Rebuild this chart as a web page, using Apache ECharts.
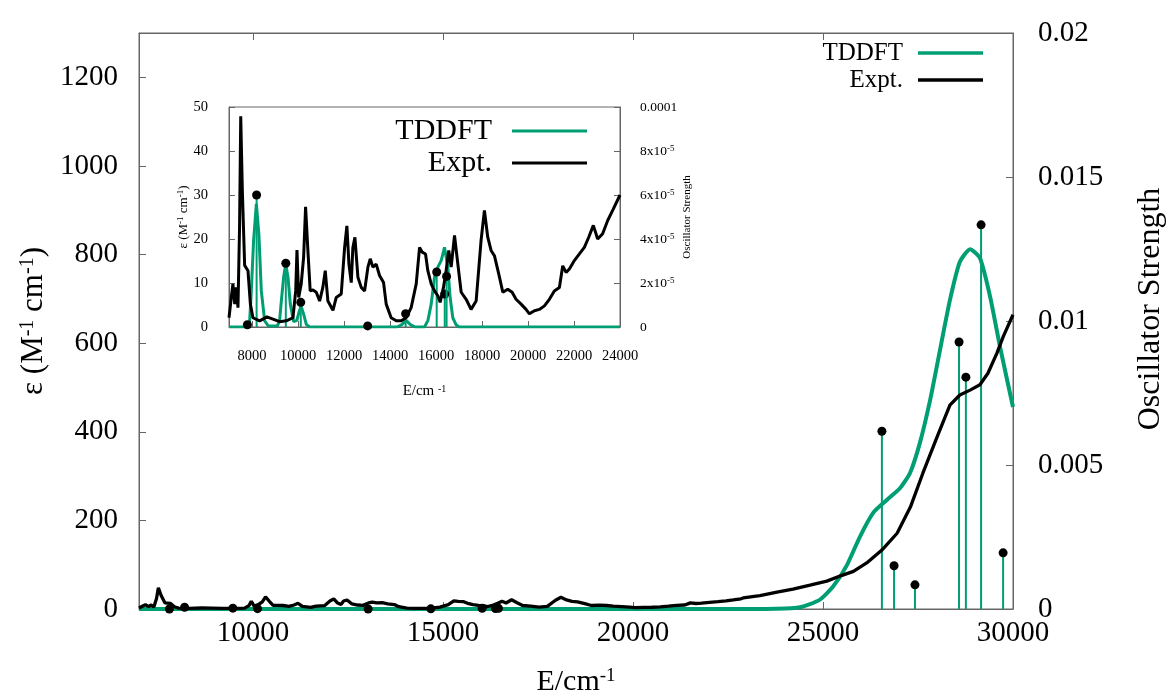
<!DOCTYPE html>
<html><head><meta charset="utf-8">
<script src="https://cdn.jsdelivr.net/npm/echarts@6/dist/echarts.min.js"></script>
<style>html,body{margin:0;padding:0;background:#fff}#c{width:1171px;height:697px}</style>
</head><body><div id="c"></div>
<script>
const FONT = '"Liberation Serif","Times New Roman",serif';

const exptLowE = [7000,7100,7170,7250,7320,7390,7460,7510,7580,7680,7825,7930,8040,8330,8650,8910,9200,9490,9780,9900,9955,10030,10140,10245,10330,10430,10530,10650,10795,10940,11080,11185,11300,11520,11660,11880,12025,12125,12215,12315,12385,12475,12605,12750,12895,13040,13140,13255,13400,13545,13720,13835,14050,14270,14485,14700,14920,15140,15285,15400,15545,15645,15790,15935,16080,16180,16325,16440,16555,16660,16805,16950,17095,17310,17525,17745,17960,18105,18250,18395,18540,18730,18905,19120,19310,19480,19700,19915,20060,20280,20495,20715,20930,21145,21365,21510,21655,21800,22015,22235,22450,22640,22840,23030,23245,23465,23680,24000];
const exptLowEps = [2.1,6.7,9.8,5.2,9,4.4,23,47.9,31,14,12.8,5.2,2.1,1.4,2.3,1.8,1.2,1.4,2.1,8.2,17.5,6.7,9.8,15.9,27.3,17.4,8.2,8.4,7.9,5.9,9,12.8,5.9,3.8,6.7,7.5,18,23,14.3,10.1,18,20.4,11.3,9,8.2,13.6,15.5,13.6,14.3,11.7,10.1,5.2,2.1,1.4,1.4,2.1,4.4,9.8,18.1,17,16.6,12.8,9.8,8.2,7.1,5.6,9,12.8,17.4,13.6,20.8,14.3,7.9,6.3,4,5.9,19.7,26.5,20.4,17.4,16.2,12,7.9,8.6,7.9,6.3,5.2,4,3,3.7,4,4.8,6.3,8.2,9,13.9,12.4,13.2,15.1,16.6,18.1,20.4,23.1,20,21.2,24.2,26.5,30];
const exptHighE = [22900,23340,23790,24210,24660,25100,25500,25800,26150,26550,26950,27300,27630,28000,28340,28600,28870,29130,29340,29580,29740,30000];
const exptHighEps = [25,30,38,45,54,63,76,85,104,133,171,230,307,388,460,483,494,506,532,578,614,664];

// TDDFT broadened spectrum, main panel
const tddftMainE = [7000,23500,24000,24400,24900,25260,25630,25970,26320,26680,27030,27290,27550,27820,28080,28340,28600,28870,29130,29400,29660,30000];
const tddftMainEps = [0,0,1,4,20,50,99,163,217,246,273,307,375,472,585,697,783,812,792,704,591,456];

// TDDFT broadened spectrum, inset (low-energy region)
const tddftInsetE = [7000,7800,7900,7970,8070,8190,8300,8405,8550,8700,9100,9200,9275,9375,9465,9565,9665,9810,9950,10040,10130,10245,10360,10500,14300,14500,14700,14900,15100,15500,15650,15790,15935,16080,16225,16370,16440,16515,16615,16730,16875,17000,24000];
const tddftInsetEps = [0,0,1.5,8.2,19.7,28,21,8.2,1.4,0.3,0.2,1.5,5.9,11.3,14.3,11.3,5.2,1.2,1.5,3.3,4.8,2.9,0.6,0,0,0.5,1.5,0.5,0,0,1.5,5.2,11.3,13.6,15.1,18.1,17.8,13.6,6.7,2.1,0.5,0,0];

// TDDFT transitions (stick spectrum): energy and oscillator strength
const stickE = [7800,8200,9470,10120,13030,14680,16030,16380,16460,26550,26870,27420,28580,28760,29160,29740];
const stickF = [0.000001,0.00006,0.000029,0.0000112,0.0000005,0.000006,0.000025,0.000015,0.000023,0.00617,0.0015,0.00084,0.00927,0.00805,0.01334,0.00195];

// Tick values / labels
const mainXTicks = [10000,15000,20000,25000,30000];
const mainYTicks = [0,200,400,600,800,1000,1200];
const mainY2Ticks = [0,0.005,0.01,0.015,0.02];
const insetXTicks = [8000,10000,12000,14000,16000,18000,20000,22000,24000];
const insetYTicks = [0,10,20,30,40,50];
const insetY2Ticks = [0,0.00002,0.00004,0.00006,0.00008,0.0001];
const insetY2Labels = ['0','2x10{sup|-5}','4x10{sup|-5}','6x10{sup|-5}','8x10{sup|-5}','0.0001'];

const GREEN = '#009e73';
const AXC = '#666';

const pairs = (xs, ys) => xs.map((x, i) => [x, ys[i]]);
const stickData = pairs(stickE, stickF);
const exptMain = pairs(exptLowE, exptLowEps).filter(d => d[0] < exptHighE[0]).concat(pairs(exptHighE, exptHighEps));
const exptInset = pairs(exptLowE, exptLowEps);
const plain = v => String(parseFloat(Number(v).toFixed(6)));

function stickRender(params, api) {
  const x = api.value(0), f = api.value(1);
  const top = api.coord([x, f]);
  const base = api.coord([x, 0]);
  return {type: 'group', children: [
    {type: 'line', shape: {x1: top[0], y1: top[1], x2: base[0], y2: base[1]}, style: {stroke: GREEN, lineWidth: 2}},
    {type: 'circle', shape: {cx: top[0], cy: top[1], r: 4.5}, style: {fill: '#000'}}
  ]};
}

const supStyle = (fs) => ({fontSize: fs, fontFamily: FONT, color: '#000', verticalAlign: 'top', lineHeight: fs});

function valAxis(o) {
  return Object.assign({
    type: 'value',
    splitLine: {show: false},
    axisLine: {show: true, onZero: false, lineStyle: {color: AXC, width: 1}},
  }, o);
}

const chart = echarts.init(document.getElementById('c'), null, {renderer: 'canvas'});
chart.setOption({
  animation: false,
  backgroundColor: '#fff',
  textStyle: {fontFamily: FONT},
  grid: [
    {left: 139, top: 33, width: 874, height: 576, show: true, borderColor: AXC, borderWidth: 1,
     backgroundColor: '#fff', containLabel: false, outerBoundsMode: 'none'},
    {left: 229, top: 107, width: 391, height: 220, show: true, borderColor: AXC, borderWidth: 1,
     backgroundColor: '#fff', containLabel: false, outerBoundsMode: 'none'}
  ],
  legend: [
    {
      data: [{name: 'TDDFT', icon: 'rect', itemStyle: {color: GREEN, borderWidth: 0}},
             {name: 'Expt.', icon: 'rect', itemStyle: {color: '#000', borderWidth: 0}}],
      orient: 'vertical', align: 'right', right: 188, top: 39.5, padding: 0,
      itemWidth: 65, itemHeight: 3.5, itemGap: 0, selectedMode: false,
      textStyle: {fontFamily: FONT, fontSize: 25, color: '#000', lineHeight: 17, padding: [0, 10, 10, 0]}
    },
    {
      data: [{name: 'TDDFT', icon: 'rect', itemStyle: {color: GREEN, borderWidth: 0}},
             {name: 'Expt.', icon: 'rect', itemStyle: {color: '#000', borderWidth: 0}}],
      orient: 'vertical', align: 'right', right: 584, top: 115, padding: 0,
      itemWidth: 75, itemHeight: 3, itemGap: 0, selectedMode: false,
      textStyle: {fontFamily: FONT, fontSize: 30, color: '#000', lineHeight: 18, padding: [0, 15, 14, 0]}
    }
  ],
  xAxis: [
    valAxis({
      gridIndex: 0, min: 7000, max: 30000, position: 'bottom',
      axisTick: {show: true, inside: true, length: 7, customValues: mainXTicks, lineStyle: {color: AXC}},
      axisLabel: {customValues: mainXTicks, fontSize: 29, fontFamily: FONT, color: '#000', margin: 10, formatter: plain},
      name: 'E/cm{sup|-1}', nameLocation: 'middle', nameGap: 58,
      nameTextStyle: {fontSize: 30, fontFamily: FONT, color: '#000', rich: {sup: supStyle(19)}}
    }),
    valAxis({
      gridIndex: 0, min: 7000, max: 30000, position: 'top',
      axisTick: {show: true, inside: true, length: 7, customValues: mainXTicks, lineStyle: {color: AXC}},
      axisLabel: {show: false}
    }),
    valAxis({
      gridIndex: 1, min: 7000, max: 24000, position: 'bottom',
      axisTick: {show: true, inside: true, length: 6, customValues: insetXTicks, lineStyle: {color: AXC}},
      axisLabel: {customValues: insetXTicks, fontSize: 14.5, fontFamily: FONT, color: '#000', margin: 22, formatter: plain},
      name: 'E/cm {sup|-1}', nameLocation: 'middle', nameGap: 57,
      nameTextStyle: {fontSize: 15, fontFamily: FONT, color: '#000', rich: {sup: supStyle(10)}}
    })
  ],
  yAxis: [
    valAxis({
      gridIndex: 0, min: 0, max: 1300, position: 'left',
      axisTick: {show: true, inside: true, length: 7, customValues: mainYTicks, lineStyle: {color: AXC}},
      axisLabel: {customValues: mainYTicks, fontSize: 29, fontFamily: FONT, color: '#000', margin: 21,
                  padding: [0, 0, 4, 0], formatter: plain},
      name: 'ε (M{sup|-1} cm{sup|-1})', nameLocation: 'middle', nameGap: 78,
      nameTextStyle: {fontSize: 31, fontFamily: FONT, color: '#000', rich: {sup: supStyle(20)}}
    }),
    valAxis({
      gridIndex: 0, min: 0, max: 0.02, position: 'right',
      axisTick: {show: true, inside: true, length: 7, customValues: mainY2Ticks, lineStyle: {color: AXC}},
      axisLabel: {customValues: mainY2Ticks, fontSize: 29, fontFamily: FONT, color: '#000', margin: 25,
                  padding: [0, 0, 14, 0], formatter: plain},
      name: 'Oscillator Strength', nameLocation: 'middle', nameGap: 122,
      nameTextStyle: {fontSize: 32, fontFamily: FONT, color: '#000', padding: [0, 0, 0, 24]}
    }),
    valAxis({
      gridIndex: 1, min: 0, max: 50, position: 'left',
      axisTick: {show: true, inside: true, length: 6, customValues: insetYTicks, lineStyle: {color: AXC}},
      axisLabel: {customValues: insetYTicks, fontSize: 14.5, fontFamily: FONT, color: '#000', margin: 21, formatter: plain},
      name: 'ε (M{sup|-1} cm{sup|-1})', nameLocation: 'middle', nameGap: 37,
      nameTextStyle: {fontSize: 13, fontFamily: FONT, color: '#000', rich: {sup: supStyle(9)}}
    }),
    valAxis({
      gridIndex: 1, min: 0, max: 0.0001, position: 'right',
      axisTick: {show: true, inside: true, length: 6, customValues: insetY2Ticks, lineStyle: {color: AXC}},
      axisLabel: {customValues: insetY2Ticks, fontSize: 13.5, fontFamily: FONT, color: '#000', margin: 20,
                  formatter: v => {
                    let best = 0;
                    insetY2Ticks.forEach((t, i) => { if (Math.abs(t - v) < Math.abs(insetY2Ticks[best] - v)) best = i; });
                    return insetY2Labels[best];
                  },
                  rich: {sup: supStyle(9)}},
      name: 'Oscillator Strength', nameLocation: 'middle', nameGap: 62,
      nameTextStyle: {fontSize: 11, fontFamily: FONT, color: '#000'}
    })
  ],
  series: [
    {name: 'TDDFT', type: 'line', xAxisIndex: 0, yAxisIndex: 0, data: pairs(tddftMainE, tddftMainEps),
     showSymbol: false, smooth: 0.2, color: GREEN, lineStyle: {color: GREEN, width: 4}, clip: true, z: 2},
    {name: 'sticks', type: 'custom', xAxisIndex: 0, yAxisIndex: 1, data: stickData,
     renderItem: stickRender, clip: false, z: 3},
    {name: 'Expt.', type: 'line', xAxisIndex: 0, yAxisIndex: 0, data: exptMain,
     showSymbol: false, color: '#000', lineStyle: {color: '#000', width: 3.3}, clip: true, z: 4},
    {name: 'TDDFT', type: 'line', xAxisIndex: 2, yAxisIndex: 2, data: pairs(tddftInsetE, tddftInsetEps),
     showSymbol: false, color: GREEN, lineStyle: {color: GREEN, width: 3}, clip: true, z: 2},
    {name: 'sticksInset', type: 'custom', xAxisIndex: 2, yAxisIndex: 3,
     data: stickData.filter(d => d[0] <= 24000 && d[1] <= 0.0001),
     renderItem: stickRender, clip: false, z: 3},
    {name: 'Expt.', type: 'line', xAxisIndex: 2, yAxisIndex: 2, data: exptInset,
     showSymbol: false, color: '#000', lineStyle: {color: '#000', width: 3}, clip: true, z: 4}
  ]
});
</script>
</body></html>
